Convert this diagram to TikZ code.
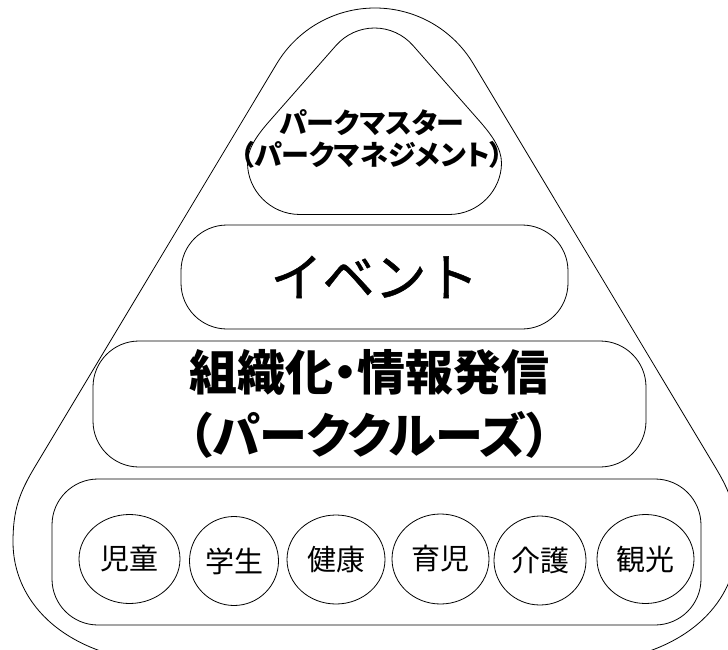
\documentclass[tikz,border=0pt]{standalone}
\usepackage{fontspec}
\newfontfamily\jp{Noto Sans CJK JP}
\newfontfamily\jpm{Noto Sans CJK JP}[FakeBold=1]
\newfontfamily\jpp{Noto Sans CJK JP}[RawFeature=+palt]
\usetikzlibrary{shapes.geometric}
\tikzset{
  outl/.style={draw=black, line width=0.8pt, fill=white},
  rbox/.style={outl, rectangle, rounded corners=46pt, inner sep=0pt},
  oval/.style={outl, ellipse, inner sep=0pt, font=\jp\fontsize{29}{32}\selectfont},
}
\begin{document}
\begin{tikzpicture}[x=1pt,y=-1pt]
\useasboundingbox (0,0) rectangle (728,650);
\clip (0,0) rectangle (728,650);
% outer rounded triangle
\draw[outl] (276.8,63.6) .. controls (297.5,29.1) and (334.7,8) .. (375,8)
  .. controls (415.3,8) and (452.5,29.1) .. (473.2,63.6) -- (715.2,467)
  .. controls (730.6,492.7) and (737,510) .. (737,542)
  .. controls (737,600) and (690,652) .. (600,662) -- (150,662)
  .. controls (60,652) and (13,600) .. (13,542)
  .. controls (13,510) and (19.4,492.7) .. (34.8,467) -- cycle;
% top rounded triangle
\draw[outl] (336.1,45.4) .. controls (345.8,34.4) and (359.8,28) .. (374.5,28)
  .. controls (389.2,28) and (403.2,34.4) .. (412.9,45.4) -- (479,120.5)
  .. controls (490.9,134) and (501.5,148) .. (501.5,163)
  .. controls (501.5,190) and (479,214.5) .. (449,214.5) -- (300,214.5)
  .. controls (270,214.5) and (247.5,190) .. (247.5,163)
  .. controls (247.5,148) and (258.1,134) .. (270,120.5) -- cycle;
\node[align=center, font=\jpp\bfseries\fontsize{28}{32}\selectfont] (pm) at (372,138.5)
  {パークマスター\\（パークマネジメント）};
% event
\node[rbox, minimum width=387pt, minimum height=104pt,
  font=\jpm\fontsize{52}{60}\selectfont] (ev) at (374.5,277) {イベント};
% organisation
\node[rbox, minimum width=553pt, minimum height=126pt, align=center,
  font=\jpp\bfseries\fontsize{48}{63}\selectfont] (org) at (369.5,404)
  {組織化・情報発信\\（パーククルーズ）};
% groups
\node[rbox, minimum width=649pt, minimum height=146pt] (grp) at (376.5,552) {};
\node[oval, minimum width=101pt, minimum height=89pt] (c1) at (129.5,559) {児童};
\node[oval, minimum width=89pt, minimum height=89pt] (c2) at (234,561) {学生};
\node[oval, minimum width=98pt, minimum height=89pt] (c3) at (336,559.5) {健康};
\node[oval, minimum width=97pt, minimum height=90pt] (c4) at (440.5,559) {育児};
\node[oval, minimum width=92pt, minimum height=89pt] (c5) at (540,560.5) {介護};
\node[oval, minimum width=97pt, minimum height=89pt] (c6) at (645.5,559) {観光};
\end{tikzpicture}
\end{document}
